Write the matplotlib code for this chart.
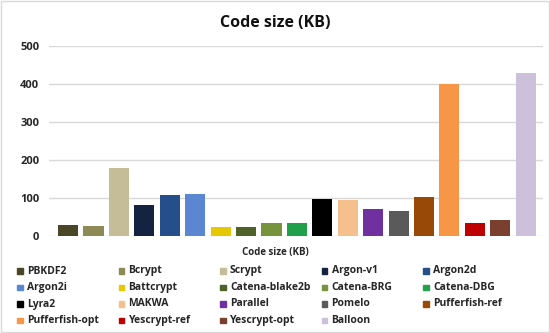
import matplotlib.pyplot as plt
from matplotlib.patches import Rectangle

# data
names = ["PBKDF2", "Bcrypt", "Scrypt", "Argon-v1", "Argon2d",
         "Argon2i", "Battcrypt", "Catena-blake2b", "Catena-BRG", "Catena-DBG",
         "Lyra2", "MAKWA", "Parallel", "Pomelo", "Pufferfish-ref",
         "Pufferfish-opt", "Yescrypt-ref", "Yescrypt-opt", "Balloon"]
sizes = [28, 26, 180, 82, 108,
         111, 25, 25, 33, 35,
         97, 94, 70, 66, 103,
         399, 35, 43, 429]
colors = ["#4a4628", "#8e8a55", "#c4bd97", "#14233f", "#254f8b",
          "#5b87d2", "#e6c800", "#4f6228", "#77933c", "#21a04c",
          "#000000", "#f5c08e", "#7030a0", "#5a5a5a", "#984807",
          "#f79646", "#c00000", "#7b3f2f", "#ccc0da"]
yticks = [0, 100, 200, 300, 400, 500]

plt.rcParams['font.family'] = ['Open Sans', 'DejaVu Sans']

fig = plt.figure(figsize=(5.5, 3.33), dpi=100)
ax = fig.add_axes([49 / 550, 1 - 236 / 333, (543 - 49) / 550, (236 - 46) / 333])

ax.bar(range(len(names)), sizes, width=0.79, color=colors, zorder=3)
ax.set_xlim(-0.75, len(names) - 0.32)
ax.set_ylim(0, 500)
ax.set_yticks(yticks)
ax.set_yticklabels([str(t) for t in yticks], fontsize=8, fontweight='bold', color='#262626')
ax.set_xticks([])
ax.grid(axis='y', color='#d9d9d9', linewidth=1, zorder=0)
for s in ax.spines.values():
    s.set_visible(False)
ax.tick_params(axis='y', length=0, pad=7)

fig.text(0.5, 1 - 23 / 333, "Code size (KB)", ha='center', va='center',
         fontsize=11.5, fontweight='bold', color='#111111')
fig.text(0.5, 1 - 253 / 333, "Code size (KB)", ha='center', va='center',
         fontsize=7, fontweight='bold', color='#262626')

# legend, laid out row by row like the original
for i, (name, c) in enumerate(zip(names, colors)):
    row, col = divmod(i, 5)
    x0 = 17 + col * 101.5
    yc = 271 + row * 16.5
    fig.add_artist(Rectangle((x0 / 550, 1 - (yc + 2.5) / 333), 5.5 / 550, 5.5 / 333,
                             transform=fig.transFigure, color=c))
    fig.text((x0 + 10) / 550, 1 - yc / 333, name, ha='left', va='center',
             fontsize=7.5, fontweight='bold', color='#262626')

# thin frame round the chart
fig.add_artist(Rectangle((0.002, 0.003), 0.996, 0.994, transform=fig.transFigure,
                         fill=False, edgecolor='#d9d9d9', linewidth=1))

fig.savefig("out.png", dpi=100)
